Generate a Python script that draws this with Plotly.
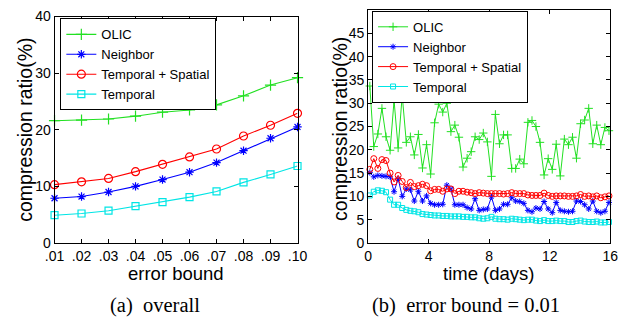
import plotly.graph_objects as go

# ---------------- data: (a) overall ----------------
error_bound = [0.01, 0.02, 0.03, 0.04, 0.05, 0.06, 0.07, 0.08, 0.09, 0.10]
error_bound_labels = ['.01', '.02', '.03', '.04', '.05', '.06', '.07', '.08', '.09', '.10']
a_olic = [21.6, 21.7, 21.9, 22.4, 23.1, 23.5, 24.4, 26.0, 27.9, 29.2]
a_neighbor = [7.9, 8.2, 9.0, 10.0, 11.2, 12.5, 14.2, 16.3, 18.5, 20.5]
a_temp_spatial = [10.3, 10.8, 11.4, 12.6, 13.9, 15.2, 16.6, 18.9, 20.8, 22.9]
a_temporal = [4.9, 5.2, 5.7, 6.5, 7.2, 8.1, 9.1, 10.7, 12.1, 13.6]

# ---------------- data: (b) error bound = 0.01 ----------------
days = [0.11, 0.37, 0.64, 0.91, 1.18, 1.45, 1.71, 1.98, 2.25, 2.52,
        2.79, 3.05, 3.32, 3.59, 3.86, 4.13, 4.39, 4.66, 4.93, 5.20,
        5.47, 5.73, 6.00, 6.27, 6.54, 6.81, 7.07, 7.34, 7.61, 7.88,
        8.15, 8.41, 8.68, 8.95, 9.22, 9.49, 9.75, 10.02, 10.29, 10.56,
        10.83, 11.09, 11.36, 11.63, 11.90, 12.17, 12.43, 12.70, 12.97, 13.24,
        13.51, 13.77, 14.04, 14.31, 14.58, 14.85, 15.11, 15.38, 15.65, 15.92]
b_olic = [33.7, 20.7, 23.4, 28.9, 22.8, 19.9, 30.6, 20.4, 31.7, 21.6,
          22.8, 18.9, 23.3, 16.1, 21.1, 14.8, 25.8, 29.8, 28.1, 30.0,
          23.9, 25.3, 22.7, 16.3, 18.2, 19.6, 22.8, 22.2, 23.6, 21.7,
          14.3, 27.6, 21.3, 23.2, 23.2, 16.0, 16.0, 18.0, 17.0, 25.9,
          26.3, 25.0, 21.6, 14.6, 18.1, 15.8, 21.2, 14.4, 22.3, 21.1,
          22.7, 18.2, 25.6, 26.4, 28.9, 21.3, 25.3, 21.1, 24.8, 24.1]
b_neighbor = [15.1, 14.2, 14.5, 14.4, 14.3, 14.2, 11.0, 13.8, 10.0, 11.6,
              11.4, 9.0, 11.1, 9.0, 10.1, 8.5, 8.2, 8.2, 8.3, 12.4,
              11.6, 8.2, 8.2, 8.2, 7.6, 7.3, 9.5, 7.0, 7.2, 7.3,
              9.9, 7.0, 7.3, 8.3, 8.3, 9.7, 9.0, 8.9, 8.5, 7.0,
              6.7, 7.5, 7.3, 8.9, 7.3, 6.5, 8.7, 7.0, 6.8, 6.7,
              6.8, 9.0, 8.9, 8.2, 7.3, 9.0, 6.8, 6.5, 6.8, 8.7]
b_temp_spatial = [15.8, 18.1, 16.0, 17.9, 17.7, 15.0, 13.1, 14.5, 13.2, 11.9,
                  13.0, 12.1, 12.3, 12.6, 12.3, 11.2, 11.5, 11.5, 11.1, 11.6,
                  11.6, 10.6, 11.1, 11.1, 10.9, 10.8, 10.6, 10.8, 10.7, 10.6,
                  10.6, 10.6, 10.6, 10.5, 10.6, 10.8, 10.6, 10.6, 10.6, 10.3,
                  10.2, 10.2, 10.2, 10.7, 10.2, 10.0, 10.1, 10.1, 10.1, 10.0,
                  10.0, 10.1, 10.4, 10.0, 10.1, 9.9, 10.1, 9.7, 9.9, 10.1]
b_temporal = [10.2, 11.0, 11.3, 11.2, 10.9, 9.3, 8.2, 8.2, 7.5, 7.1,
              6.9, 6.8, 6.6, 6.2, 6.1, 6.0, 5.9, 5.9, 5.8, 5.8,
              5.7, 5.7, 5.7, 5.6, 5.6, 5.5, 5.5, 5.3, 5.2, 5.3,
              5.6, 5.2, 5.1, 5.1, 5.0, 5.2, 5.1, 5.0, 4.9, 5.0,
              5.0, 4.8, 4.7, 4.9, 4.7, 4.7, 4.8, 4.7, 4.7, 4.5,
              4.5, 4.7, 4.8, 4.6, 4.5, 4.5, 4.6, 4.4, 4.4, 4.5]

series_names = ['OLIC', 'Neighbor', 'Temporal + Spatial', 'Temporal']
colors = ['#22e022', '#0000ff', '#ff0000', '#00e5e5']
symbols = ['cross-thin-open', 'asterisk-open', 'circle-open', 'square-open']

FONT = 'Liberation Sans, Arial, sans-serif'
SERIF = 'Liberation Serif, Times New Roman, serif'

fig = go.Figure()

left_vals = [a_olic, a_neighbor, a_temp_spatial, a_temporal]
left_sizes = [8, 7, 8, 7]
for name, vals, c, s, ms in zip(series_names, left_vals, colors, symbols, left_sizes):
    fig.add_trace(go.Scatter(
        x=error_bound, y=vals, name=name, mode='lines+markers',
        line=dict(color=c, width=1.1),
        marker=dict(symbol=s, size=ms, color=c, line=dict(color=c, width=1.2)),
        cliponaxis=False, xaxis='x', yaxis='y', legend='legend'))

right_vals = [b_olic, b_neighbor, b_temp_spatial, b_temporal]
right_sizes = [6, 5, 6, 5]
for name, vals, c, s, ms in zip(series_names, right_vals, colors, symbols, right_sizes):
    fig.add_trace(go.Scatter(
        x=days, y=vals, name=name, mode='lines+markers',
        line=dict(color=c, width=1),
        marker=dict(symbol=s, size=ms, color=c, line=dict(color=c, width=1)),
        cliponaxis=False, xaxis='x2', yaxis='y2', legend='legend2'))

W, H = 626, 328
def px_x(v):
    return v / W
def px_y(v):
    return 1 - v / H

axis_common = dict(
    showline=True, linecolor='black', linewidth=1, mirror='ticks',
    ticks='inside', ticklen=4, tickcolor='black', tickwidth=1,
    showgrid=False, zeroline=False,
    tickfont=dict(family=FONT, size=14, color='black'),
)

legend_common = dict(
    bgcolor='white', bordercolor='black', borderwidth=1,
    font=dict(family=FONT, size=13, color='black'),
    xanchor='left', yanchor='top', tracegroupgap=0,
)

fig.update_layout(
    width=W, height=H,
    margin=dict(l=0, r=0, t=0, b=0),
    paper_bgcolor='white', plot_bgcolor='white',
    font=dict(family=FONT, color='black'),
    xaxis=dict(domain=[px_x(46), px_x(297)], anchor='y', range=[0.01, 0.10],
               tickvals=error_bound, ticktext=error_bound_labels, **axis_common),
    yaxis=dict(domain=[px_y(247), px_y(9)], anchor='x', range=[0, 40],
               tickvals=[0, 10, 20, 30, 40], **axis_common),
    xaxis2=dict(domain=[px_x(370), px_x(620)], anchor='y2', range=[0, 16],
                tickvals=[0, 4, 8, 12, 16], **axis_common),
    yaxis2=dict(domain=[px_y(247), px_y(2.2)], anchor='x2', range=[0, 50],
                tickvals=[0, 5, 10, 15, 20, 25, 30, 35, 40, 45], **axis_common),
    legend=dict(x=px_x(52), y=px_y(11), **legend_common),
    legend2=dict(x=px_x(374), y=px_y(3), **legend_common),
)

annotations = [
    dict(text='compression ratio(%)', x=px_x(15.5), y=px_y(128), textangle=-90,
         font=dict(family=FONT, size=19.5, color='black')),
    dict(text='compression ratio(%)', x=px_x(341), y=px_y(127), textangle=-90,
         font=dict(family=FONT, size=19.5, color='black')),
    dict(text='error bound', x=px_x(171.5), y=px_y(279),
         font=dict(family=FONT, size=18.5, color='black')),
    dict(text='time (days)', x=px_x(495), y=px_y(279),
         font=dict(family=FONT, size=18.5, color='black')),
    dict(text='(a)\u00a0\u00a0overall', x=px_x(150), y=px_y(313),
         font=dict(family=SERIF, size=20.5, color='black')),
    dict(text='(b)\u00a0\u00a0error bound = 0.01', x=px_x(471), y=px_y(313),
         font=dict(family=SERIF, size=20.5, color='black')),
]
for a in annotations:
    a.update(xref='paper', yref='paper', showarrow=False,
             xanchor='center', yanchor='middle')
fig.update_layout(annotations=annotations)

fig.write_html('out.html')
